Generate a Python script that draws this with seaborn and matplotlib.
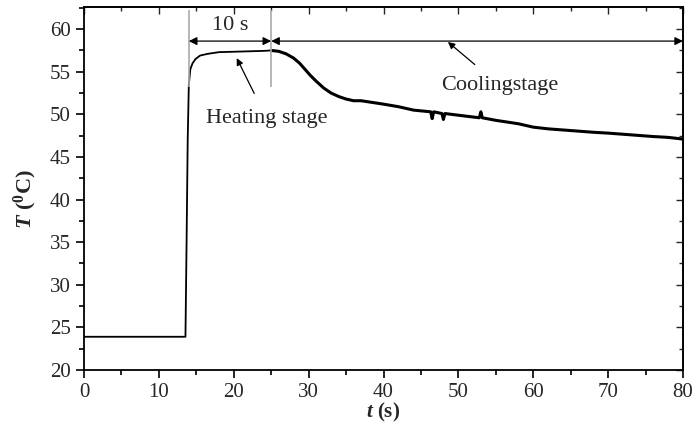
import matplotlib
matplotlib.use("Agg")
import matplotlib.pyplot as plt
import seaborn as sns
import pandas as pd
import numpy as np
from matplotlib.ticker import MultipleLocator

# data
time_s = [0, 5, 10, 13.55, 13.7, 13.85, 14.0, 14.2, 14.5, 14.9, 15.5, 16.5, 18.0, 20.0, 22.0, 24.0, 25.0,
          26.0, 27.0, 28.0, 28.8, 29.5, 30.2, 31.0, 32.0, 33.0, 34.0, 35.0, 36.0, 37.0, 38.5, 40.0,
          42.0, 44.0, 46.3, 46.5, 46.7, 47.8, 48.0, 48.2, 50.0, 52.8, 53.0, 53.2, 55.0, 58.0,
          60.0, 62.0, 65.0, 68.0, 70.0, 73.0, 76.0, 78.0, 80.0]
temp_c = [23.9, 23.9, 23.9, 23.9, 35.0, 47.0, 53.5, 55.3, 56.0, 56.5, 56.9, 57.1, 57.3, 57.35, 57.4, 57.45, 57.5,
          57.4, 57.1, 56.6, 56.0, 55.3, 54.6, 53.9, 53.1, 52.5, 52.1, 51.8, 51.6, 51.6, 51.4, 51.2,
          50.9, 50.5, 50.3, 49.5, 50.3, 50.1, 49.4, 50.1, 49.9, 49.6, 50.3, 49.6, 49.3, 48.9,
          48.5, 48.3, 48.1, 47.9, 47.8, 47.6, 47.4, 47.3, 47.1]

df = pd.DataFrame({"t": time_s, "T": temp_c})
df_heat = df[df["t"] <= 25.0]
df_cool = df[df["t"] >= 25.0]

sns.set_theme(style="ticks")
plt.rcParams["font.family"] = ["Liberation Serif", "DejaVu Serif"]
plt.rcParams["mathtext.fontset"] = "custom"
plt.rcParams["mathtext.rm"] = "Liberation Serif"
plt.rcParams["mathtext.it"] = "Liberation Serif:italic"
plt.rcParams["mathtext.bf"] = "Liberation Serif:bold"
plt.rcParams["mathtext.bfit"] = "Liberation Serif:italic:bold"

fig = plt.figure(figsize=(6.94, 4.26), dpi=100)
ax = fig.add_axes([84/694, 56/426, 599/694, 363/426])

sns.lineplot(data=df_heat, x="t", y="T", ax=ax, color="black", linewidth=1.3,
             sort=False, estimator=None)
sns.lineplot(data=df_cool, x="t", y="T", ax=ax, color="black", linewidth=2.2,
             sort=False, estimator=None)

ax.set_xlim(0, 80)
ax.set_ylim(20, 62.6)
ax.xaxis.set_major_locator(MultipleLocator(10))
ax.xaxis.set_minor_locator(MultipleLocator(5))
ax.yaxis.set_major_locator(MultipleLocator(5))
ax.yaxis.set_minor_locator(MultipleLocator(2.5))
for s in ax.spines.values():
    s.set_visible(True)
    s.set_linewidth(1.3)
    s.set_color("black")
ax.tick_params(which="major", direction="out", length=6, width=1.2, labelsize=15, color="black")
ax.tick_params(which="minor", direction="out", length=3.5, width=1.2, color="black")

secx = ax.secondary_xaxis("top")
secx.xaxis.set_major_locator(MultipleLocator(10))
secx.xaxis.set_minor_locator(MultipleLocator(5))
secx.tick_params(which="both", direction="in", labeltop=False, width=1.0)
secx.tick_params(which="major", length=5)
secx.tick_params(which="minor", length=3)
secy = ax.secondary_yaxis("right")
secy.yaxis.set_major_locator(MultipleLocator(5))
secy.yaxis.set_minor_locator(MultipleLocator(2.5))
secy.tick_params(which="both", direction="in", labelright=False, width=1.0)
secy.tick_params(which="major", length=5)
secy.tick_params(which="minor", length=3)

ax.set_xlabel(r"$\boldsymbol{t}$ $\mathbf{(s)}$", fontsize=15, labelpad=-1)
ax.set_ylabel(r"$\boldsymbol{T}$ $\mathbf{(^{0}C)}$", fontsize=16, labelpad=2)
ax.yaxis.set_label_coords(-0.075, 0.47)

# stage markers
ax.vlines([14, 25], 53.2, 62.2, color="#aaaaaa", linewidth=1.2)
ax.annotate("", xy=(14, 58.6), xytext=(25, 58.6),
            arrowprops=dict(arrowstyle="<|-|>", color="black", lw=0.9, shrinkA=0, shrinkB=0,
                            mutation_scale=12))
ax.annotate("", xy=(25, 58.6), xytext=(80, 58.6),
            arrowprops=dict(arrowstyle="<|-|>", color="black", lw=0.9, shrinkA=0, shrinkB=0,
                            mutation_scale=12))
ax.text(19.5, 60.4, "10 s", ha="center", va="center", fontsize=16)
ax.annotate("Heating stage", xy=(20.4, 56.6), xytext=(24.4, 49.5), ha="center", va="center",
            fontsize=16, arrowprops=dict(arrowstyle="-|>", color="black", lw=0.9,
                                         shrinkA=10, shrinkB=0, mutation_scale=10))
ax.annotate("Coolingstage", xy=(48.6, 58.5), xytext=(55.5, 53.4), ha="center", va="center",
            fontsize=16, arrowprops=dict(arrowstyle="-|>", color="black", lw=0.9,
                                         shrinkA=9, shrinkB=0, mutation_scale=10))

fig.savefig("out.png", dpi=100)
